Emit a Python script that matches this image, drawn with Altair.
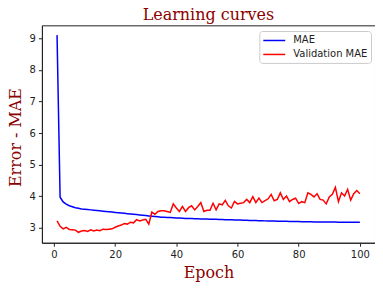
import altair as alt
import pandas as pd

epochs = list(range(1, 101))
mae = [9.10, 3.97, 3.82, 3.75, 3.70, 3.67, 3.64, 3.62, 3.60, 3.59,
       3.58, 3.57, 3.56, 3.55, 3.54, 3.53, 3.52, 3.51, 3.50, 3.49,
       3.48, 3.47, 3.46, 3.45, 3.44, 3.43, 3.42, 3.41, 3.40, 3.39,
       3.38, 3.37, 3.36, 3.35, 3.34, 3.335, 3.33, 3.325, 3.32, 3.315,
       3.31, 3.305, 3.30, 3.297, 3.294, 3.291, 3.288, 3.285, 3.282, 3.279,
       3.276, 3.273, 3.27, 3.267, 3.264, 3.261, 3.258, 3.255, 3.252, 3.249,
       3.246, 3.243, 3.24, 3.237, 3.234, 3.231, 3.228, 3.225, 3.222, 3.22,
       3.218, 3.216, 3.214, 3.212, 3.21, 3.208, 3.206, 3.204, 3.202, 3.20,
       3.198, 3.196, 3.194, 3.192, 3.19, 3.189, 3.188, 3.187, 3.186, 3.185,
       3.184, 3.183, 3.182, 3.181, 3.18, 3.179, 3.178, 3.177, 3.176, 3.175]
val_mae = [3.22, 3.05, 2.97, 3.02, 2.95, 2.94, 2.93, 2.86, 2.90, 2.92,
           2.89, 2.94, 2.90, 2.93, 2.91, 2.96, 2.95, 2.96, 2.97, 3.02,
           3.06, 3.09, 3.14, 3.12, 3.18, 3.16, 3.26, 3.22, 3.25, 3.27,
           3.12, 3.50, 3.43, 3.52, 3.54, 3.54, 3.52, 3.49, 3.76, 3.63,
           3.52, 3.68, 3.52, 3.64, 3.70, 3.57, 3.68, 3.80, 3.52, 3.56,
           3.56, 3.78, 3.57, 3.76, 3.73, 3.87, 3.70, 3.63, 3.84, 3.76,
           3.78, 3.80, 3.90, 3.80, 3.99, 3.80, 3.94, 3.80, 3.86, 3.92,
           4.06, 3.86, 3.90, 4.11, 3.90, 4.01, 3.83, 3.90, 3.94, 3.77,
           3.83, 3.80, 4.11, 4.06, 3.98, 4.08, 3.90, 3.88, 3.76, 3.98,
           4.06, 4.28, 3.83, 4.11, 4.01, 4.22, 3.88, 4.08, 4.18, 4.08]
series = ["MAE", "Validation MAE"]
colors = ["blue", "red"]

df = pd.concat([
    pd.DataFrame({"epoch": epochs, "value": mae, "series": series[0]}),
    pd.DataFrame({"epoch": epochs, "value": val_mae, "series": series[1]}),
])

chart = alt.Chart(df).mark_line(strokeWidth=1.5).encode(
    x=alt.X("epoch:Q",
            scale=alt.Scale(domain=[-3.95, 104.95], nice=False, zero=False),
            axis=alt.Axis(values=[0, 20, 40, 60, 80, 100], title="Epoch", grid=False,
                          titleFont="DejaVu Serif", titleFontSize=16,
                          titleFontWeight="normal", titleColor="#8B0000",
                          titleBaseline="alphabetic", titleX=167, titleY=34.7,
                          titleAlign="center")),
    y=alt.Y("value:Q",
            scale=alt.Scale(domain=[2.53, 9.41], nice=False, zero=False),
            axis=alt.Axis(values=[3, 4, 5, 6, 7, 8, 9], title="Error - MAE", grid=False,
                          titleFont="DejaVu Serif", titleFontSize=16,
                          titleFontWeight="normal", titleColor="#8B0000",
                          titleBaseline="alphabetic", titleX=-21.2, titleY=112,
                          titleAlign="center", titleAngle=270)),
    color=alt.Color("series:N", scale=alt.Scale(domain=series, range=colors),
                    legend=alt.Legend(title=None, orient="none", legendX=218, legendY=5.7,
                                      symbolType="M-1,0H3", symbolSize=121,
                                      symbolStrokeWidth=1.5,
                                      labelFont="DejaVu Sans", labelFontSize=10,
                                      labelColor="#222", labelOffset=18,
                                      strokeColor="#ccc", fillColor="white",
                                      cornerRadius=3, padding=3, rowPadding=2)),
).properties(
    width=334, height=218,
    title=alt.TitleParams("Learning curves", font="DejaVu Serif", fontSize=16,
                          fontWeight="normal", color="#8B0000", offset=2),
    autosize="none",
    padding={"left": 34, "top": 17, "right": 0, "bottom": 45},
).configure_view(stroke="#222", strokeWidth=1).configure_axis(
    domainColor="#222", tickColor="#222", tickSize=3.5, labelFont="DejaVu Sans",
    labelFontSize=10, labelColor="#222", labelPadding=3,
)

chart.save("out.html", embed_options={"renderer": "svg", "actions": False})
